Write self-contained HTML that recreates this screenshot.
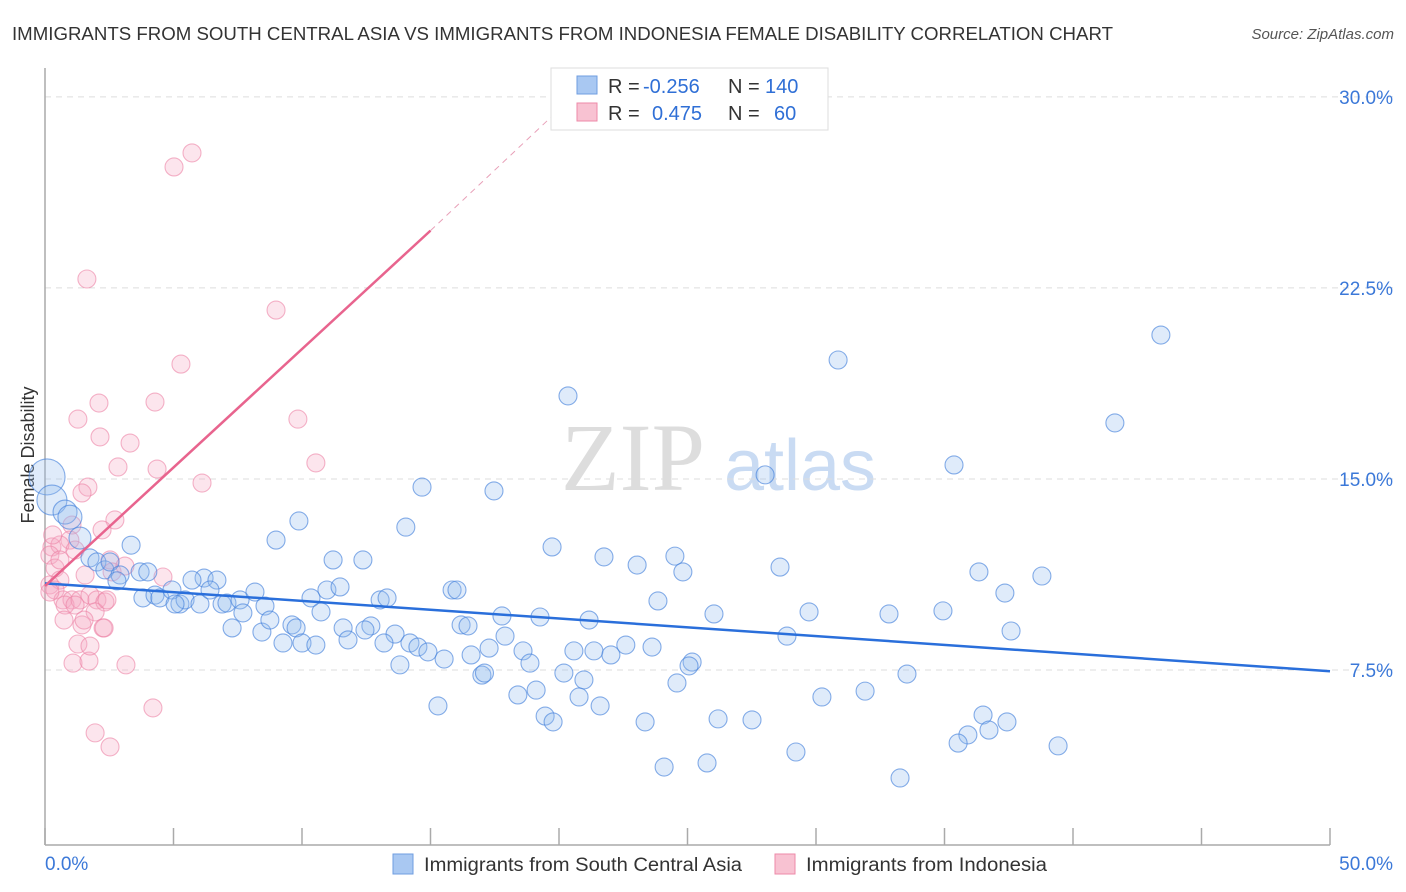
<!DOCTYPE html>
<html><head><meta charset="utf-8"><style>
body{margin:0;background:#fff;font-family:"Liberation Sans",sans-serif;}
#wrap{position:relative;width:1406px;height:892px;overflow:hidden}
</style></head><body><div id="wrap">
<svg id="chart" width="1406" height="892" xmlns="http://www.w3.org/2000/svg">
<text x="12" y="40" font-size="18" fill="#333" textLength="1101" lengthAdjust="spacingAndGlyphs">IMMIGRANTS FROM SOUTH CENTRAL ASIA VS IMMIGRANTS FROM INDONESIA FEMALE DISABILITY CORRELATION CHART</text>
<text x="1394" y="39" font-size="15" fill="#555" font-style="italic" text-anchor="end">Source: ZipAtlas.com</text>
<text x="633" y="490" font-size="96" fill="#ddd" font-family="Liberation Serif,serif" text-anchor="middle">ZIP</text>
<text x="800" y="490" font-size="72" fill="#c9dbf3" text-anchor="middle">atlas</text>
<text transform="translate(34,455) rotate(-90)" font-size="18" fill="#333" text-anchor="middle">Female Disability</text>
<g id="grid"></g><g id="pts"></g><g id="lines"></g>
<rect x="551" y="68" width="277" height="62" fill="#fff" stroke="#ddd"/>
<rect x="577" y="76" width="20" height="18" fill="#a9c8f2" stroke="#6f9ee0"/>
<rect x="577" y="103" width="20" height="18" fill="#f8c2d2" stroke="#ee8aa8"/>
<text y="93" font-size="20"><tspan x="608" fill="#333">R =</tspan><tspan x="643" fill="#2f6fd6">-0.256</tspan><tspan x="728" fill="#333">N =</tspan><tspan x="765" fill="#2f6fd6">140</tspan></text>
<text y="120" font-size="20"><tspan x="608" fill="#333">R =</tspan><tspan x="652" fill="#2f6fd6">0.475</tspan><tspan x="728" fill="#333">N =</tspan><tspan x="774" fill="#2f6fd6">60</tspan></text>
<rect x="393" y="854" width="20" height="20" fill="#a9c8f2" stroke="#6f9ee0"/>
<text x="424" y="871" font-size="19" fill="#333" textLength="318" lengthAdjust="spacingAndGlyphs">Immigrants from South Central Asia</text>
<rect x="775" y="854" width="20" height="20" fill="#f8c2d2" stroke="#ee8aa8"/>
<text x="806" y="871" font-size="19" fill="#333" textLength="241" lengthAdjust="spacingAndGlyphs">Immigrants from Indonesia</text>
</svg>
<script>
const yTicks=[7.5,15,22.5,30];
const yTickLabels=["7.5%","15.0%","22.5%","30.0%"];
const xTicks=[0,5,10,15,20,25,30,35,40,45,50];
const blueX=[20.35,30.86,43.42,41.63,35.37,28.02,14.67,17.47,14.04,9.88,8.99,19.73,21.75,24.51,23.04,24.82,11.21,12.37,28.6,36.34,38.79,37.35,10.97,11.48,15.84,16.03,23.85,13.04,13.31,10.35,17.78,19.26,21.17,26.03,29.73,32.84,34.94,37.59,28.87,10.74,16.19,16.46,17.9,11.6,11.79,12.68,12.45,13.62,13.19,14.2,14.51,14.9,15.53,16.58,17.28,18.6,18.87,20.58,21.36,22.02,22.6,23.62,13.81,17.0,17.1,20.19,20.97,20.78,18.4,19.11,21.6,25.18,25.06,24.59,30.23,31.91,33.54,15.29,19.46,19.77,23.35,26.19,27.51,36.5,37.43,36.73,35.91,35.53,39.42,29.22,24.09,25.76,33.27,0.08,0.27,0.78,0.97,1.36,1.75,2.02,2.33,2.53,2.92,3.35,2.8,3.7,4.0,3.81,4.28,4.47,4.94,5.25,5.45,6.03,6.19,6.69,6.42,6.89,7.28,7.08,7.59,8.17,8.56,7.7,8.44,8.75,9.26,9.61,9.77,10.0,10.54,5.72,5.06];
const blueY=[18.26,19.67,20.65,17.2,15.55,15.16,14.68,14.53,13.11,13.35,12.6,12.33,11.94,11.97,11.62,11.35,11.82,11.82,11.54,11.35,11.19,10.52,10.64,10.76,10.64,10.64,10.21,10.25,10.33,10.33,9.62,9.58,9.46,9.7,9.78,9.7,9.82,9.03,8.83,9.78,9.27,9.23,8.83,9.15,8.68,9.23,9.07,8.91,8.56,8.56,8.4,8.21,7.93,8.09,8.36,8.25,7.77,8.25,8.25,8.09,8.48,8.4,7.7,7.3,7.38,7.38,7.11,6.44,6.52,6.71,6.09,7.81,7.66,6.99,6.44,6.67,7.34,6.09,5.69,5.46,5.46,5.58,5.54,5.73,5.46,5.14,4.95,4.63,4.52,4.28,3.69,3.85,3.26,15.08,14.17,13.7,13.5,12.68,11.9,11.74,11.43,11.74,11.23,12.4,11.0,11.35,11.35,10.33,10.44,10.33,10.64,10.09,10.25,10.09,11.11,11.03,10.64,10.09,9.15,10.13,10.25,10.56,10.01,9.74,8.99,9.46,8.56,9.27,9.15,8.56,8.48,11.03,10.09];
const blueR=[];for(let i=0;i<blueX.length;i++)blueR.push(9);
blueR[93]=18;blueR[94]=15;blueR[95]=12;blueR[96]=12;blueR[97]=11;
const pinkX=[5.72,5.02,1.63,8.99,5.29,2.1,4.28,1.28,9.84,2.14,3.31,4.36,2.84,10.54,6.11,1.67,1.44,2.72,2.22,1.05,0.97,0.27,0.58,0.19,0.39,1.17,2.53,2.61,1.56,0.58,0.19,0.39,0.7,1.05,0.19,0.78,1.36,1.75,2.02,2.33,1.95,1.44,0.74,1.17,1.52,2.26,4.59,1.28,2.3,1.09,1.71,3.15,4.2,1.95,2.53,2.41,1.75,0.58,3.11,0.3];
const pinkY=[27.8,27.25,22.85,21.63,19.51,17.98,18.02,17.35,17.35,16.65,16.41,15.39,15.47,15.63,14.84,14.68,14.45,13.39,13.0,13.19,12.6,12.33,12.41,12.01,11.5,12.21,11.82,11.35,11.23,11.03,10.84,10.64,10.25,10.25,10.56,10.05,10.25,10.44,10.25,10.17,9.78,9.27,9.46,10.05,9.46,9.15,11.15,8.52,9.15,7.77,7.85,7.7,6.01,5.03,4.48,10.25,8.44,11.82,11.58,12.8];
const blueTrend=[[0,10.9],[50,7.45]];
const pinkTrend=[[0,10.8],[15,24.75]];
const pinkDash=[[15,24.75],[20,29.5]];
const X=v=>45+v*25.7, Y=v=>861-v*25.47;
const NS='http://www.w3.org/2000/svg';
function mk(t,a,p){const e=document.createElementNS(NS,t);for(const k in a)e.setAttribute(k,a[k]);p.appendChild(e);return e;}
const grid=document.getElementById('grid');
yTicks.forEach((t,i)=>{
 const l=mk('line',{x1:45,x2:1394,y1:Y(t),y2:Y(t),stroke:'#ddd','stroke-dasharray':'6,5'},grid);
 
 
 const tx=mk('text',{x:1393,y:Y(t)+7,'font-size':19,fill:'#3b78d8','text-anchor':'end'},grid);tx.textContent=yTickLabels[i];
 
 
});
const ax=mk('line',{x1:45,x2:45,y1:68,y2:845,stroke:'#aaa','stroke-width':1.5},grid);


const bx=mk('line',{x1:45,x2:1330,y1:845,y2:845,stroke:'#aaa','stroke-width':1.5},grid);


xTicks.forEach(t=>{const l=mk('line',{x1:X(t),x2:X(t),y1:828,y2:845,stroke:'#aaa','stroke-width':1.5},grid);
 
 });
let t1=mk('text',{x:45,y:870,'font-size':19,fill:'#3b78d8'},grid);t1.textContent='0.0%';


let t2=mk('text',{x:1393,y:870,'font-size':19,fill:'#3b78d8','text-anchor':'end'},grid);t2.textContent='50.0%';


const pts=document.getElementById('pts');
pinkX.forEach((x,i)=>{const c=mk('circle',{cx:X(x),cy:Y(pinkY[i]),r:9,fill:'rgba(246,170,194,0.3)',stroke:'rgba(236,130,165,0.6)','stroke-width':1.1},pts);
 
 });
blueX.forEach((x,i)=>{const c=mk('circle',{cx:X(x),cy:Y(blueY[i]),r:blueR[i],fill:'rgba(150,190,240,0.3)',stroke:'rgba(70,130,220,0.65)','stroke-width':1.1},pts);
 
 });
const ln=document.getElementById('lines');
let a=mk('line',{x1:X(blueTrend[0][0]),y1:Y(blueTrend[0][1]),x2:X(blueTrend[1][0]),y2:Y(blueTrend[1][1]),stroke:'#2a6fdb','stroke-width':2.5},ln);


let b=mk('line',{x1:X(pinkTrend[0][0]),y1:Y(pinkTrend[0][1]),x2:X(pinkTrend[1][0]),y2:Y(pinkTrend[1][1]),stroke:'#e8648e','stroke-width':2.5},ln);


let c=mk('line',{x1:X(pinkDash[0][0]),y1:Y(pinkDash[0][1]),x2:X(pinkDash[1][0]),y2:Y(pinkDash[1][1]),stroke:'#e8a0b8','stroke-width':1,'stroke-dasharray':'6,5'},ln);


</script>
</div></body></html>
